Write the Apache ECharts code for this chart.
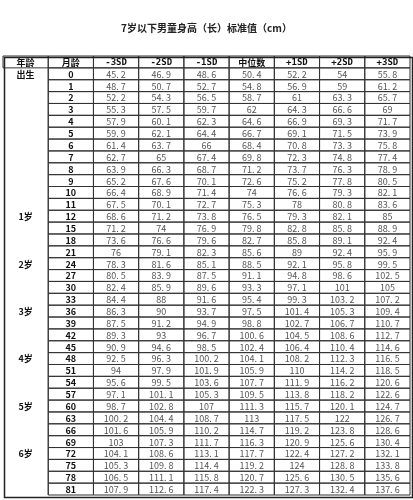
<!DOCTYPE html>
<html>
<head>
<meta charset="utf-8">
<script src="https://cdn.jsdelivr.net/npm/echarts@6/dist/echarts.min.js"></script>
<style>html,body{margin:0;background:#fff}#main{width:413px;height:500px}</style>
</head>
<body>
<div id="main"></div>
<script>
// 表头和数据
var headers = ['年龄', '月龄', '-3SD', '-2SD', '-1SD', '中位数', '+1SD', '+2SD', '+3SD'];
var months = [0,1,2,3,4,5,6,7,8,9,10,11,12,15,18,21,24,27,30,33,36,39,42,45,48,51,54,57,60,63,66,69,72,75,78,81];
var ageLabels = {0: '出生', 12: '1岁', 24: '2岁', 36: '3岁', 48: '4岁', 60: '5岁', 72: '6岁'};
var sdMinus3 = [45.2,48.7,52.2,55.3,57.9,59.9,61.4,62.7,63.9,65.2,66.4,67.5,68.6,71.2,73.6,76,78.3,80.5,82.4,84.4,86.3,87.5,89.3,90.9,92.5,94,95.6,97.1,98.7,100.2,101.6,103,104.1,105.3,106.5,107.9];
var sdMinus2 = [46.9,50.7,54.3,57.5,60.1,62.1,63.7,65,66.3,67.6,68.9,70.1,71.2,74,76.6,79.1,81.6,83.9,85.9,88,90,91.2,93,94.6,96.3,97.9,99.5,101.1,102.8,104.4,105.9,107.3,108.6,109.8,111.1,112.6];
var sdMinus1 = [48.6,52.7,56.5,59.7,62.3,64.4,66,67.4,68.7,70.1,71.4,72.7,73.8,76.9,79.6,82.3,85.1,87.5,89.6,91.6,93.7,94.9,96.7,98.5,100.2,101.9,103.6,105.3,107,108.7,110.2,111.7,113.1,114.4,115.8,117.4];
var median = [50.4,54.8,58.7,62,64.6,66.7,68.4,69.8,71.2,72.6,74,75.3,76.5,79.8,82.7,85.6,88.5,91.1,93.3,95.4,97.5,98.8,100.6,102.4,104.1,105.9,107.7,109.5,111.3,113,114.7,116.3,117.7,119.2,120.7,122.3];
var sdPlus1 = [52.2,56.9,61,64.3,66.9,69.1,70.8,72.3,73.7,75.2,76.6,78,79.3,82.8,85.8,89,92.1,94.8,97.1,99.3,101.4,102.7,104.5,106.4,108.2,110,111.9,113.8,115.7,117.5,119.2,120.9,122.4,124,125.6,127.3];
var sdPlus2 = [54,59,63.3,66.6,69.3,71.5,73.3,74.8,76.3,77.8,79.3,80.8,82.1,85.8,89.1,92.4,95.8,98.6,101,103.2,105.3,106.7,108.6,110.4,112.3,114.2,116.2,118.2,120.1,122,123.8,125.6,127.2,128.8,130.5,132.4];
var sdPlus3 = [55.8,61.2,65.7,69,71.7,73.9,75.8,77.4,78.9,80.5,82.1,83.6,85,88.9,92.4,95.9,99.5,102.5,105,107.2,109.4,110.7,112.7,114.6,116.5,118.5,120.6,122.6,124.7,126.7,128.6,130.4,132.1,133.8,135.6,137.6];

var columns = [sdMinus3, sdMinus2, sdMinus1, median, sdPlus1, sdPlus2, sdPlus3];
var rowNames = ['h'].concat(months.map(function (m) { return 'm' + m; }));

// 数字用全角风格的 ". " 间隔
function fmt(v) { return String(v).replace('.', '. '); }

var cells = [];
headers.forEach(function (h, c) { cells.push([c, 0, h, 'head']); });
months.forEach(function (m, r) {
    cells.push([0, r + 1, ageLabels[m] || '', 'age']);
    cells.push([1, r + 1, String(m), 'month']);
    columns.forEach(function (col, c) {
        cells.push([c + 2, r + 1, fmt(col[r]), 'num']);
    });
});

function renderCell(params, api) {
    var c = api.value(0), r = api.value(1), kind = cells[params.dataIndex][3];
    var center = api.coord([c, r]);
    var size = api.size([1, 1]);
    var x = center[0] - size[0] / 2, y = center[1] - size[1] / 2;
    var w = size[0], h = size[1];
    var children = [];
    var line = { stroke: '#333', lineWidth: 1 };
    if (kind === 'age') {
        children.push({ type: 'line', shape: { x1: x + w, y1: y, x2: x + w, y2: y + h }, style: line });
    } else {
        children.push({ type: 'rect', shape: { x: x, y: y, width: w, height: h }, style: { fill: 'none', stroke: '#333', lineWidth: 1 } });
    }
    var bold = kind !== 'num';
    children.push({
        type: 'text',
        x: center[0], y: center[1] + 0.5,
        style: {
            text: cells[params.dataIndex][2],
            align: 'center', verticalAlign: 'middle',
            fill: kind === 'num' ? '#555' : '#111',
            font: (bold ? 'bold ' : '') + (kind === 'head' && c > 1 && c !== 5 ? '9px "DejaVu Sans Mono"' : '9px "Noto Sans CJK SC"')
        }
    });
    return { type: 'group', children: children };
}

var myChart = echarts.init(document.getElementById('main'));
myChart.setOption({
    animation: false,
    title: {
        text: '7岁以下男童身高（长）标准值（cm）',
        left: 'center', top: 18,
        textStyle: { fontSize: 10, fontWeight: 'bold', color: '#222', fontFamily: '"Noto Sans CJK SC"' }
    },
    grid: { left: 3, right: 3, top: 56, bottom: 5 },
    xAxis: { type: 'category', data: headers, show: false },
    yAxis: { type: 'category', data: rowNames, inverse: true, show: false },
    graphic: [{
        type: 'rect', left: 2, top: 55, shape: { width: 408, height: 440 },
        style: { fill: 'none', stroke: '#222', lineWidth: 1.5 }, z: 10
    }],
    series: [{
        type: 'custom',
        renderItem: renderCell,
        data: cells.map(function (d) { return [d[0], d[1]]; })
    }]
});
</script>
</body>
</html>
